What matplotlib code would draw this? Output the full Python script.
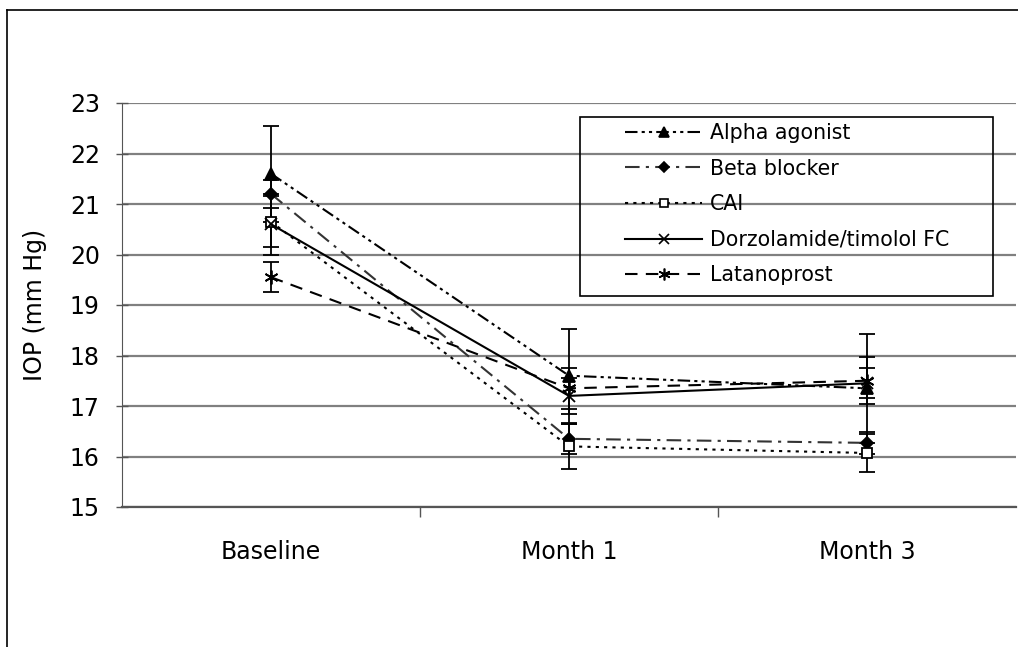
import matplotlib.pyplot as plt
from matplotlib.lines import Line2D
from matplotlib.patches import Rectangle

plt.rcParams['font.family'] = ['DejaVu Sans']

# Data
timepoints = ['Baseline', 'Month 1', 'Month 3']
series_names = ['Alpha agonist', 'Beta blocker', 'CAI',
                'Dorzolamide/timolol FC', 'Latanoprost']

alpha_iop = [21.6, 17.6, 17.35]
beta_iop = [21.2, 16.35, 16.27]
cai_iop = [20.65, 16.2, 16.07]
dorz_iop = [20.6, 17.2, 17.45]
latan_iop = [19.55, 17.35, 17.5]

alpha_err = [0.95, 0.93, 1.08]
beta_err = [0.28, 0.3, 0.22]
cai_err = [0.5, 0.45, 0.37]
dorz_err = [0.6, 0.35, 0.3]
latan_err = [0.3, 0.4, 0.47]

fig = plt.figure(figsize=(10.18, 6.47), dpi=100)
ax = fig.add_axes([122 / 1018, 1 - 507 / 647, 894 / 1018, 404 / 647])

x = list(range(len(timepoints)))

styles = [
    dict(values=alpha_iop, err=alpha_err, ls=(0, (6, 2, 1.5, 2, 1.5, 2)),
         marker='^', mfc='black', ms=8, color='black'),
    dict(values=beta_iop, err=beta_err, ls=(0, (7, 3, 1.5, 3)),
         marker='D', mfc='black', ms=6, color='#333333'),
    dict(values=cai_iop, err=cai_err, ls=(0, (1.5, 2.5)),
         marker='s', mfc='white', ms=7, color='black'),
    dict(values=dorz_iop, err=dorz_err, ls='-',
         marker='x', mfc='black', ms=8, color='black'),
    dict(values=latan_iop, err=latan_err, ls=(0, (6, 4)),
         marker=(6, 2, 0), mfc='black', ms=10, color='black'),
]

handles = []
for name, st in zip(series_names, styles):
    ax.errorbar(x, st['values'], yerr=st['err'], color=st['color'],
                ls=st['ls'], lw=1.5, marker=st['marker'], ms=st['ms'],
                mfc=st['mfc'], mec='black', mew=1.3,
                ecolor='black', elinewidth=1.3, capsize=6, capthick=1.3)
    handles.append(Line2D([], [], color=st['color'], ls=st['ls'], lw=1.5,
                          marker=st['marker'], ms=st['ms'] * 0.85,
                          mfc=st['mfc'], mec='black', mew=1.2, label=name))

ax.set_xlim(-0.5, 2.5)
ax.set_ylim(15, 23)
ax.set_yticks(range(15, 24))
ax.set_xticks(x)
ax.set_xticklabels(timepoints, fontsize=17)
ax.set_xticks([0.5, 1.5], minor=True)
ax.tick_params(axis='x', which='major', length=0, pad=24)
ax.tick_params(axis='x', which='minor', length=7, width=1, color='#555555',
               direction='out')
ax.tick_params(axis='y', labelsize=17, length=8, width=1, color='#555555',
               direction='inout', pad=12)
ax.set_ylabel('IOP (mm Hg)', fontsize=17, labelpad=16)

ax.grid(axis='y', color='#808080', lw=1.6)
ax.set_axisbelow(True)
for s in ['top', 'right']:
    ax.spines[s].set_visible(False)
ax.spines['left'].set_color('#555555')
ax.spines['bottom'].set_color('#555555')
ax.spines['bottom'].set_linewidth(1.6)

leg = fig.legend(handles=handles, loc='upper left',
                 bbox_to_anchor=(625 / 1018, 1 - 123 / 647),
                 fontsize=14.8, frameon=False, handlelength=3.75,
                 borderpad=0, borderaxespad=0, labelspacing=0.76,
                 handletextpad=0.4)

# legend box as drawn in the original
fig.add_artist(Rectangle((580 / 1018, 1 - 296 / 647), 413 / 1018, 179 / 647,
                         transform=fig.transFigure, fill=False,
                         edgecolor='black', lw=1.2))

# outer frame of the original figure (top and left edges only are visible)
fig.add_artist(Line2D([7 / 1018, 7 / 1018], [0, 1 - 10 / 647],
                      transform=fig.transFigure, color='black', lw=1.2))
fig.add_artist(Line2D([7 / 1018, 1], [1 - 10 / 647, 1 - 10 / 647],
                      transform=fig.transFigure, color='black', lw=1.2))

fig.savefig('out.png', dpi=100)
